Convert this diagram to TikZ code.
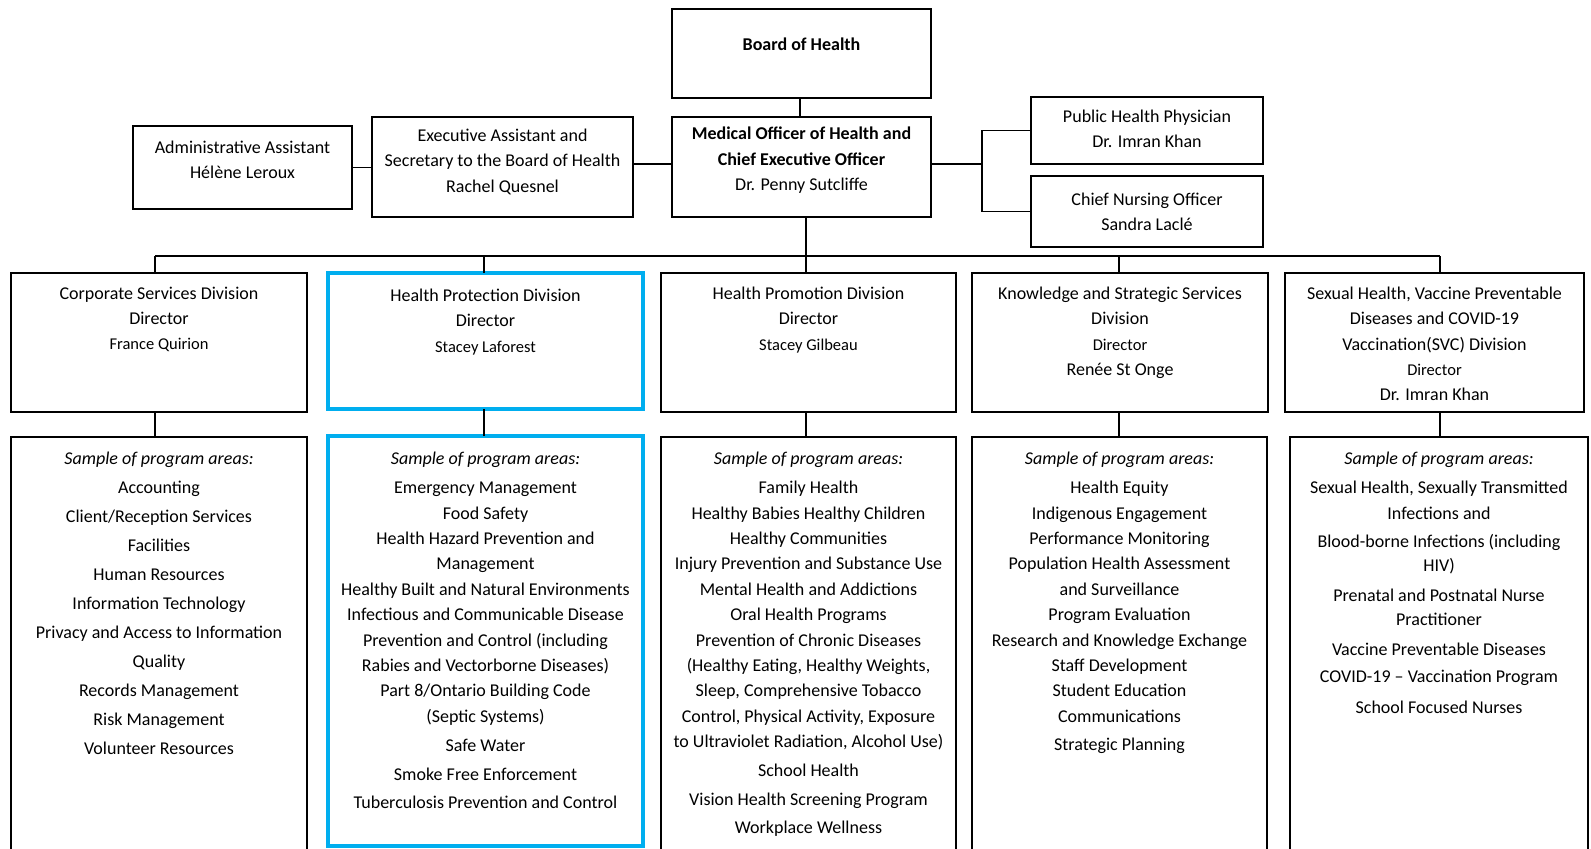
\documentclass[tikz,border=0pt]{standalone}
\usepackage{fontspec}
\setmainfont{Carlito}
\usetikzlibrary{fit}
\definecolor{hlblue}{RGB}{0,174,239}
\begin{document}
\begin{tikzpicture}[x=1pt,y=-1pt,
  box/.style={draw=black,line width=1.3pt,inner sep=0pt,outer sep=0pt},
  bluebox/.style={draw=hlblue,line width=4.5pt,inner sep=0pt,outer sep=0pt},
  txt/.style={align=center,inner sep=0pt,anchor=north,font=\fontsize{18}{25.4}\selectfont},
  wide/.style={font=\fontsize{18}{29}\selectfont},
  conn/.style={draw=black,line width=1.3pt}]
\clip (0,0) rectangle (1591,849);
\fill[white] (0,0) rectangle (1591,849);
\newcommand{\smtx}[1]{{\fontsize{16.5}{25.4}\selectfont #1}}

% top boxes
\node[box,fit={(672,9) (931,98)}] (board) {};
\node[box,fit={(672,117) (931,217)}] (moh) {};
\node[box,fit={(133,126) (352,209)}] (admin) {};
\node[box,fit={(372,117) (633,217)}] (exec) {};
\node[box,fit={(1031,97) (1263,164)}] (php) {};
\node[box,fit={(1031,176) (1263,247)}] (cno) {};

\node[txt] (tboard) at (801.5,37.5) {\textbf{Board of Health}};
\node[txt] (tmoh) at (801.5,127) {\textbf{Medical Officer of Health and}\\\textbf{Chief Executive Officer}\\Dr. Penny Sutcliffe};
\node[txt] (tadmin) at (242.5,140.5) {Administrative Assistant\\Hélène Leroux};
\node[txt] (texec) at (502.5,128.5) {Executive Assistant and\\Secretary to the Board of Health\\Rachel Quesnel};
\node[txt] (tphp) at (1147,109.5) {Public Health Physician\\Dr. Imran Khan};
\node[txt] (tcno) at (1147,192.5) {Chief Nursing Officer\\Sandra Laclé};

% division boxes
\node[box,fit={(11,273) (307,412)}] (d1) {};
\node[bluebox,fit={(328,273) (643,409)}] (d2) {};
\node[box,fit={(661,273) (956,412)}] (d3) {};
\node[box,fit={(972,273) (1268,412)}] (d4) {};
\node[box,fit={(1285,273) (1584,412)}] (d5) {};

\node[txt] (td1) at (159,286.5) {Corporate Services Division\\Director\\\smtx{France Quirion}};
\node[txt] (td2) at (485.5,288.5) {Health Protection Division\\Director\\\smtx{Stacey Laforest}};
\node[txt] (td3) at (808.5,286.5) {Health Promotion Division\\Director\\\smtx{Stacey Gilbeau}};
\node[txt] (td4) at (1120,286.5) {Knowledge and Strategic Services\\Division\\\smtx{Director}\\Renée St Onge};
\node[txt] (td5) at (1434.5,286.5) {Sexual Health, Vaccine Preventable\\Diseases and COVID-19\\Vaccination(SVC) Division\\\smtx{Director}\\Dr. Imran Khan};

% program boxes
\node[box,fit={(11,437) (307,880)}] (p1) {};
\node[bluebox,fit={(328,436) (643,846)}] (p2) {};
\node[box,fit={(661,437) (956,880)}] (p3) {};
\node[box,fit={(972,437) (1267,880)}] (p4) {};
\node[box,fit={(1290,437) (1588,880)}] (p5) {};

\node[txt,wide] (tp1) at (159,451.5) {\textit{Sample of program areas:}\\Accounting\\Client/Reception Services\\Facilities\\Human Resources\\Information Technology\\Privacy and Access to Information\\Quality\\Records Management\\Risk Management\\Volunteer Resources};
\node[txt] (tp2) at (485.5,451.5) {\textit{Sample of program areas:}\\[4pt]Emergency Management\\Food Safety\\Health Hazard Prevention and\\Management\\Healthy Built and Natural Environments\\Infectious and Communicable Disease\\Prevention and Control (including\\Rabies and Vectorborne Diseases)\\Part 8/Ontario Building Code\\(Septic Systems)\\[4pt]Safe Water\\[3pt]Smoke Free Enforcement\\[3pt]Tuberculosis Prevention and Control};
\node[txt] (tp3) at (808.5,451.5) {\textit{Sample of program areas:}\\[4pt]Family Health\\Healthy Babies Healthy Children\\Healthy Communities\\Injury Prevention and Substance Use\\Mental Health and Addictions\\Oral Health Programs\\Prevention of Chronic Diseases\\(Healthy Eating, Healthy Weights,\\Sleep, Comprehensive Tobacco\\Control, Physical Activity, Exposure\\to Ultraviolet Radiation, Alcohol Use)\\[3pt]School Health\\[4pt]Vision Health Screening Program\\[3pt]Workplace Wellness};
\node[txt] (tp4) at (1119.5,451.5) {\textit{Sample of program areas:}\\[4pt]Health Equity\\Indigenous Engagement\\Performance Monitoring\\Population Health Assessment\\and Surveillance\\Program Evaluation\\Research and Knowledge Exchange\\Staff Development\\Student Education\\Communications\\[3pt]Strategic Planning};
\node[txt] (tp5) at (1439,451.5) {\textit{Sample of program areas:}\\[4pt]Sexual Health, Sexually Transmitted\\Infections and\\[3pt]Blood-borne Infections (including\\[-1pt]HIV)\\[4pt]Prenatal and Postnatal Nurse\\[-1pt]Practitioner\\[4pt]Vaccine Preventable Diseases\\[2pt]COVID-19 -- Vaccination Program\\[6pt]School Focused Nurses};

% connector x positions
\coordinate (xb) at (800,0);
\coordinate (xm) at (806,0);
\coordinate (x1) at (155,0);
\coordinate (x2) at (484,0);
\coordinate (x4) at (1119,0);
\coordinate (x5) at (1440,0);
\coordinate (bus) at (806,256);
\coordinate (bl) at (155,256);
\coordinate (br) at (1440,256);
\coordinate (jx) at (982,164);

% connectors
\draw[conn] (board.south -| xb) -- (moh.north -| xb);
\draw[conn] (admin.east) -- (admin.east -| exec.west);
\draw[conn] (exec.east |- 0,164) -- (moh.west |- 0,164);
\draw[conn,line width=2pt] (moh.east |- jx) -- (jx);
\draw[conn] (php.west) -| (jx) |- (cno.west);
\draw[conn] (moh.south -| xm) -- (bus);
\draw[conn] (bl) -- (br);
\draw[conn] (bl) -- (d1.north -| x1);
\draw[conn] (bus -| x2) -- (d2.north -| x2);
\draw[conn] (bus) -- (d3.north -| xm);
\draw[conn] (bus -| x4) -- (d4.north -| x4);
\draw[conn] (br) -- (d5.north -| x5);
\draw[conn] (d1.south -| x1) -- (p1.north -| x1);
\draw[conn] (d2.south -| x2) -- (p2.north -| x2);
\draw[conn] (d3.south -| xm) -- (p3.north -| xm);
\draw[conn] (d4.south -| x4) -- (p4.north -| x4);
\draw[conn] (d5.south -| x5) -- (p5.north -| x5);
\end{tikzpicture}
\end{document}
